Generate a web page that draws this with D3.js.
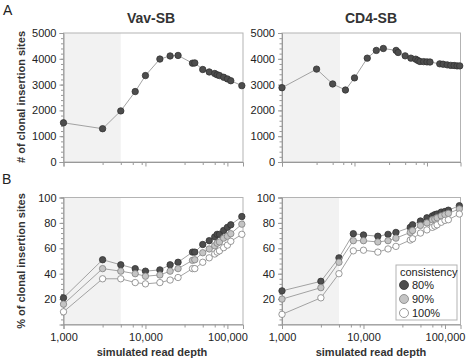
<!DOCTYPE html>
<html>
<head>
<meta charset="utf-8">
<script src="https://cdn.jsdelivr.net/npm/d3@7"></script>
<style>
  body { margin: 0; background: #fff; }
  svg text { font-family: "Liberation Sans", Arial, sans-serif; }
</style>
</head>
<body>
<svg id="chart" width="469" height="362"></svg>
<script>
// simulated read depths (x values)
const depth = [1000, 3000, 5000, 7500, 10000, 15000, 20000, 25000, 37500, 40000, 50000, 60000, 70000, 75000, 80000, 90000, 100000, 110000, 150000]
const depthCD4Top = [1000, 3000, 5000, 7500, 10000, 15000, 20000, 25000, 37500, 40000, 50000, 60000, 70000, 75000, 80000, 90000, 100000, 110000, 150000, 167000, 190000, 213000, 237000, 260000, 283000]

// panel A: number of clonal insertion sites
const vavCount = [1520, 1290, 1980, 2730, 3350, 3990, 4110, 4130, 3830, 3840, 3585, 3490, 3430, 3380, 3350, 3285, 3220, 3150, 2960]
const cd4Count = [2880, 3600, 3025, 2790, 3260, 4025, 4325, 4400, 4325, 4245, 4115, 4025, 3985, 3935, 3895, 3890, 3880, 3875, 3805, 3790, 3765, 3745, 3740, 3725, 3725]

// panel B: % of clonal insertion sites per consistency level
const vav80 = [21, 51, 47, 44, 42, 43, 47, 49, 57, 57, 63, 66, 69, 71, 71, 74, 76.5, 78.5, 85]
const vav90 = [16, 44, 42, 40, 38, 39, 42, 44, 50.5, 51, 56.5, 59.5, 62, 64, 65, 68, 69.5, 71.5, 79]
const vav100 = [10, 36, 36, 33, 32, 33, 35, 37, 44, 44, 49, 52.5, 55.5, 57, 58, 60.5, 62.5, 65.5, 71]
const cd80 = [26.5, 34, 52.5, 71.5, 70.5, 69.5, 71, 72.5, 76.5, 78.5, 81.5, 84, 85.5, 86.5, 87, 88.5, 89, 90, 93.5]
const cd90 = [20, 29, 49, 66, 66, 65, 66, 68, 72.5, 74, 78, 80, 82.5, 83, 84, 85.5, 86.5, 87.5, 91]
const cd100 = [8, 21, 40, 58, 58.5, 57, 59.5, 61.5, 66.5, 67.5, 72, 74.5, 76.5, 77.5, 78.5, 80.5, 82, 82.5, 87]

const levels = ["80%", "90%", "100%"]
const fills = ["#4d4d4d", "#c4c4c4", "#ffffff"]
const strokes = ["#333", "#808080", "#808080"]

const xMajor = [1000, 10000, 100000]
const xMinor = [3000, 5000, 7000, 9000, 30000, 50000, 70000, 90000, 300000]
const xLabels = ["1,000", "10,000", "100,000"]

let svg = d3.select("#chart")

let drawPanel = (p) => {
    let x = d3.scaleLog().domain(p.xDomain).range([p.left, p.right])
    let y = d3.scaleLinear().domain(p.yDomain).range([p.bottom, p.top])

    let g = svg.append("g")

    // shaded low-depth region
    g.append("rect")
    .attr("x", x(1000))
    .attr("y", p.top)
    .attr("width", x(p.shadeEnd) - x(1000))
    .attr("height", p.bottom - p.top)
    .attr("fill", "#f2f2f2")

    // frame
    g.append("rect")
    .attr("x", p.left)
    .attr("y", p.top)
    .attr("width", p.right - p.left)
    .attr("height", p.bottom - p.top)
    .attr("fill", "none")
    .attr("stroke", "#b3b3b3")
    .attr("stroke-width", 1)

    // y axis, minor + major
    g.append("g")
    .attr("transform", "translate(" + p.left + ",0)")
    .call(d3.axisLeft(y).tickValues(p.yMinor).tickSize(2.5).tickFormat(""))
    .call(a => a.select(".domain").remove())

    g.append("g")
    .attr("transform", "translate(" + p.left + ",0)")
    .call(d3.axisLeft(y).tickValues(p.yMajor).tickSize(4).tickPadding(3).tickFormat(d3.format("d")))
    .call(a => a.select(".domain").attr("stroke", "#999"))

    // x axis, minor + major
    let minors = xMinor.filter(v => v < p.xDomain[1])
    g.append("g")
    .attr("transform", "translate(0," + p.bottom + ")")
    .call(d3.axisBottom(x).tickValues(minors).tickSize(3).tickFormat(""))
    .call(a => a.select(".domain").remove())

    g.append("g")
    .attr("transform", "translate(0," + p.bottom + ")")
    .call(d3.axisBottom(x).tickValues(xMajor).tickSize(4.5).tickPadding(4)
        .tickFormat((d, i) => p.xLabels ? xLabels[i] : ""))
    .call(a => a.select(".domain").attr("stroke", "#999"))

    g.selectAll(".tick line").attr("stroke", "#999")
    g.selectAll(".tick text")
    .attr("fill", "#222")
    .attr("font-size", "11px")
    .attr("font-family", "Liberation Sans, Arial, sans-serif")

    let line = d3.line().x(d => x(d[0])).y(d => y(d[1]))

    p.series.forEach((s, k) => {
        let pts = p.xs.map((v, i) => [v, s[i]])
        g.append("path")
        .datum(pts)
        .attr("d", line)
        .attr("fill", "none")
        .attr("stroke", "#999")
        .attr("stroke-width", 0.9)

        g.selectAll(null)
        .data(pts)
        .enter().append("circle")
        .attr("cx", d => x(d[0]))
        .attr("cy", d => y(d[1]))
        .attr("r", 3.2)
        .attr("fill", fills[k])
        .attr("stroke", strokes[k])
        .attr("stroke-width", 0.8)
    })
}

let countMinor = d3.range(0, 5001, 200)
let pctMinor = d3.range(0, 101, 4)

drawPanel({ left: 63.5, right: 243, top: 33, bottom: 162, xDomain: [1000, 155000], yDomain: [0, 5000],
    yMajor: [0, 1000, 2000, 3000, 4000, 5000], yMinor: countMinor, shadeEnd: 5000,
    xs: depth, series: [vavCount], xLabels: false })

// top-right panel has a longer depth range in the original figure
drawPanel({ left: 282, right: 460.5, top: 33, bottom: 162, xDomain: [1000, 290000], yDomain: [0, 5000],
    yMajor: [0, 1000, 2000, 3000, 4000, 5000], yMinor: countMinor, shadeEnd: 6300,
    xs: depthCD4Top, series: [cd4Count], xLabels: false })

drawPanel({ left: 63.5, right: 243, top: 197.5, bottom: 324.5, xDomain: [1000, 155000], yDomain: [0, 100],
    yMajor: [20, 40, 60, 80, 100], yMinor: pctMinor, shadeEnd: 5000,
    xs: depth, series: [vav80, vav90, vav100], xLabels: true })

drawPanel({ left: 282, right: 460.5, top: 197.5, bottom: 324.5, xDomain: [1000, 155000], yDomain: [0, 100],
    yMajor: [20, 40, 60, 80, 100], yMinor: pctMinor, shadeEnd: 5000,
    xs: depth, series: [cd80, cd90, cd100], xLabels: true })

// titles and labels
svg.append("text").text("A").attr("x", 3).attr("y", 15).attr("font-size", "14px").attr("fill", "#222")
svg.append("text").text("B").attr("x", 2).attr("y", 184).attr("font-size", "14px").attr("fill", "#222")

svg.append("text").text("Vav-SB").attr("x", 151).attr("y", 23).attr("text-anchor", "middle")
.attr("font-size", "14px").attr("font-weight", "bold").attr("fill", "#333")
svg.append("text").text("CD4-SB").attr("x", 371).attr("y", 23).attr("text-anchor", "middle")
.attr("font-size", "14px").attr("font-weight", "bold").attr("fill", "#333")

svg.append("text").text("# of clonal insertion sites")
.attr("transform", "translate(25,97) rotate(-90)").attr("text-anchor", "middle")
.attr("font-size", "11px").attr("font-weight", "bold").attr("fill", "#333")
svg.append("text").text("% of clonal insertion sites")
.attr("transform", "translate(25,261) rotate(-90)").attr("text-anchor", "middle")
.attr("font-size", "11px").attr("font-weight", "bold").attr("fill", "#333")

svg.append("text").text("simulated read depth").attr("x", 152).attr("y", 356).attr("text-anchor", "middle")
.attr("font-size", "11px").attr("font-weight", "bold").attr("fill", "#333")
svg.append("text").text("simulated read depth").attr("x", 371).attr("y", 356).attr("text-anchor", "middle")
.attr("font-size", "11px").attr("font-weight", "bold").attr("fill", "#333")

// legend
let lg = svg.append("g").attr("transform", "translate(396,265)")
lg.append("rect").attr("width", 61).attr("height", 55)
.attr("fill", "#fff").attr("stroke", "#b3b3b3")
lg.append("text").text("consistency").attr("x", 4).attr("y", 11)
.attr("font-size", "11px").attr("fill", "#222")
lg.selectAll("circle").data(levels).enter().append("circle")
.attr("cx", 8).attr("cy", (d, i) => 20 + i * 14).attr("r", 4.5)
.attr("fill", (d, i) => fills[i]).attr("stroke", (d, i) => strokes[i]).attr("stroke-width", 0.8)
lg.selectAll(".lab").data(levels).enter().append("text")
.attr("x", 16).attr("y", (d, i) => 24 + i * 14).text(d => d)
.attr("font-size", "11px").attr("fill", "#222")
</script>
</body>
</html>
